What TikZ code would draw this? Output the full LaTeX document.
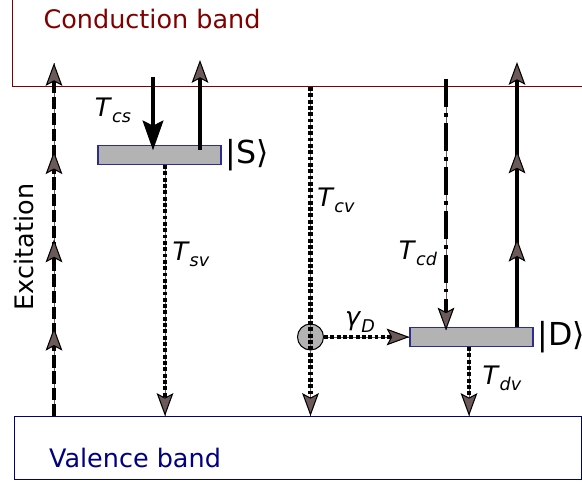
\documentclass[tikz,border=0pt]{standalone}
\usepackage{fontspec}
\setmainfont{DejaVu Sans}
\usetikzlibrary{arrows.meta, decorations.markings, positioning}
\definecolor{cbred}{HTML}{800000}
\definecolor{vbblue}{HTML}{000080}
\definecolor{tipbrown}{HTML}{6C5A5A}
\definecolor{levelgray}{HTML}{B3B3B3}
\definecolor{levelblue}{HTML}{2B2B9A}
\newcommand{\rate}[2]{\textit{#1}\raisebox{-0.45ex}{\fontsize{10}{10}\selectfont\textit{#2}}}
\tikzset{
  btip/.tip={Stealth[length=13pt, width=9.5pt, inset=2.5pt, line width=0.6pt, fill=tipbrown]},
  ktip/.tip={Stealth[length=17pt, width=12pt, inset=3pt, line width=0.6pt, fill=black]}
}
\begin{document}
\begin{tikzpicture}[x=0.02cm, y=-0.02cm,
    every node/.style={font=\fontsize{14.5}{17}\selectfont},
    level/.style={draw=levelblue, fill=levelgray, line width=0.6pt, minimum width=2.46cm, minimum height=0.38cm, inner sep=0pt},
    solidarr/.style={line width=2.3pt, -btip},
    dotarr/.style={line width=2.3pt, dash pattern=on 2.2pt off 1.4pt, preaction={draw=tipbrown, line width=0.5pt, solid, -}, -btip},
    excarr/.style={line width=2.3pt, dash pattern=on 7pt off 2.2pt, preaction={draw=tipbrown, line width=0.5pt, solid, -}, -btip},
    dotdash/.style={line width=2.3pt, dash pattern=on 16pt off 3.5pt on 2pt off 3.5pt, preaction={draw=tipbrown, line width=0.5pt, solid, -}, -btip},
    lbl/.style={inner sep=0pt},
    ket/.style={font=\fontsize{18}{20}\selectfont, inner sep=2pt}]
  \useasboundingbox (0,0) rectangle (582,482);
  % bands
  \node[draw=cbred, line width=0.8pt, anchor=south west, minimum width=12cm, minimum height=3cm] (cb) at (12,87) {};
  \node[draw=vbblue, line width=0.8pt, anchor=north west, minimum width=11.34cm, minimum height=1.26cm] (vb) at (14,416) {};
  \node[text=cbred] (cbtxt) at (152,19) {Conduction band};
  \node[text=vbblue] (vbtxt) at (135,458) {Valence band};
  \node[rotate=90] (exctxt) at (24,247) {Excitation};
  % levels
  \node[level] (S) at (159.5,155) {};
  \node[ket, right=0pt of S] (Stxt) {|S⟩};
  \node[level] (D) at (471.5,337) {};
  \node[ket, right=0pt of D] (Dtxt) {|D⟩};
  \node[circle, draw, fill=levelgray, line width=0.6pt, minimum size=0.52cm, inner sep=0pt] (trap) at (310.5,337) {};
  % free ends
  \coordinate (exc0) at (54,416);
  \coordinate (exc1) at (54,63);
  \coordinate (cs0) at (153,77);
  \coordinate (sup) at (200,60);
  \coordinate (sv) at (165,0);
  \coordinate (cd0) at (446,79);
  \coordinate (dup) at (517,62);
  \coordinate (dv) at (469,0);
  % transitions
  \draw[excarr, postaction={decorate}, decoration={markings,
      mark=at position 0.25 with {\arrow{btip}},
      mark=at position 0.5 with {\arrow{btip}},
      mark=at position 0.75 with {\arrow{btip}}}] (exc0) -- (exc1);
  \draw[line width=2.3pt, -ktip] (cs0) -- ([yshift=-3pt]cs0 |- S.north);
  \draw[solidarr] ([yshift=-3pt]sup |- S.north) -- (sup);
  \draw[dotarr] (sv |- S.south) -- (sv |- vb.north);
  \draw[dotarr] (cb.south -| trap.center) -- (trap.center |- vb.north);
  \draw[dotarr] (trap.east) -- (D.west);
  \draw[dotdash] (cd0) -- ([yshift=-2pt]cd0 |- D.north);
  \draw[solidarr, postaction={decorate}, decoration={markings,
      mark=at position 0.333 with {\arrow{btip}},
      mark=at position 0.666 with {\arrow{btip}}}] (dup |- D.north) -- (dup);
  \draw[dotarr] (dv |- D.south) -- (dv |- vb.north);
  % rates
  \node[lbl] (Tcs) at (113,110) {\rate{T}{cs}};
  \node[lbl] (Tsv) at (191,254) {\rate{T}{sv}};
  \node[lbl] (Tcv) at (336,200) {\rate{T}{cv}};
  \node[lbl] (Tcd) at (418,253) {\rate{T}{cd}};
  \node[lbl] (gD) at (360,322) {\rate{γ}{D}};
  \node[lbl] (Tdv) at (502,378) {\rate{T}{dv}};
\end{tikzpicture}
\end{document}
